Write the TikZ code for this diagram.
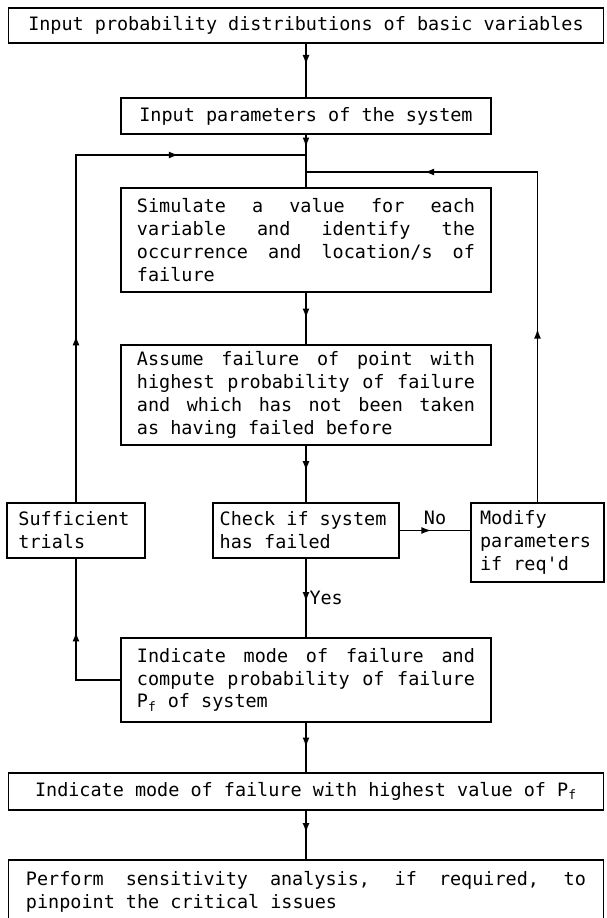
\documentclass[tikz,border=0pt]{standalone}
\usepackage{fontspec}
\setmonofont{DejaVu Sans Mono}
\usetikzlibrary{positioning,arrows.meta,decorations.markings}

\tikzset{
  mid/.style={postaction={decorate,decoration={markings,
      mark=at position #1 with {\arrow{Latex[length=2mm,width=1.4mm]}}}}},
}

\begin{document}
\begin{tikzpicture}[
  node distance=1.08cm and 1.36cm,
  every node/.style={font=\ttfamily\fontsize{10.5}{13}\selectfont, outer sep=0pt,
    execute at begin node={\spaceskip=\fontcharwd\font`x\relax}},
  plainbox/.style={draw, line width=1pt, inner ysep=3pt, inner xsep=0.32cm, text width=6.76cm, align=center},
  box/.style={plainbox, align=justify,
    execute at begin node={\spaceskip=\fontcharwd\font`x plus 3em\relax}},
  wide/.style={plainbox, text width=11.5cm, inner xsep=0.2cm},
  side/.style={draw, line width=1pt, inner ysep=3pt, align=left},
  link/.style={line width=1pt}
]
\useasboundingbox (-6.12,0.51) rectangle (6.0,-17.85);

\node[wide, minimum height=0.7cm] (in) {Input probability distributions of basic variables};
\node[plainbox, minimum height=0.72cm, below=1.1cm of in] (par) {Input parameters of the system};
\node[box, minimum height=2.08cm, below=of par] (sim) {Simulate a value for each\linebreak
  variable and identify the\linebreak occurrence and location/s of\linebreak failure};
\node[box, minimum height=2.0cm, below=1.06cm of sim] (fail) {Assume failure of point with\linebreak
  highest probability of failure\linebreak and which has not been taken\linebreak as having failed before};
\node[side, text width=3.45cm, inner xsep=0.135cm, minimum height=1.1cm, below=1.16cm of fail] (check) {Check if system\\has failed};
\node[side, text width=2.3cm, inner xsep=0.23cm, minimum height=1.1cm, left=of check] (suff) {Sufficient\\trials};
\node[side, text width=2.3cm, inner xsep=0.18cm, minimum height=1.58cm, right=1.44cm of check.north east, anchor=north west] (modify) {Modify\\parameters\\if req'd};
\node[box, minimum height=1.68cm, below=1.6cm of check] (mode) {Indicate mode of failure and\linebreak
  compute probability of failure\linebreak P\textsubscript{f} of system};
\node[wide, minimum height=0.74cm, below=1.02cm of mode] (best) {Indicate mode of failure with highest value of P\textsubscript{f}};
\node[box, text width=11.2cm, inner xsep=0.35cm, minimum height=1.26cm, below=1.0cm of best] (sens) {Perform sensitivity analysis, if required, to\linebreak
  pinpoint the critical issues};

% loop junctions
\coordinate[below=0.42cm of par] (jl);
\coordinate[below=0.76cm of par] (jr);

\draw[link, mid=0.4] (in) -- (par);
\draw[link, mid=0.25] (par) -- (sim);
\draw[link, mid=0.5] (sim) -- (fail);
\draw[link, mid=0.45] (fail) -- (check);
\draw[link, mid=0.55] (check) -- node[right, inner sep=2pt] {Yes} (mode);
\draw[link, mid=0.5] (mode) -- (best);
\draw[link, mid=0.46] (best) -- (sens);
\draw[link, mid=0.45] (check.east) -- node[above] {No} (check.east -| modify.west);
\draw[link, mid=0.56] (mode.west) -| (suff);
\draw[link, mid=0.29, mid=0.78] (suff) |- (jl);
\draw[link, mid=0.31, mid=0.79] (modify) |- (jr);
\end{tikzpicture}
\end{document}
